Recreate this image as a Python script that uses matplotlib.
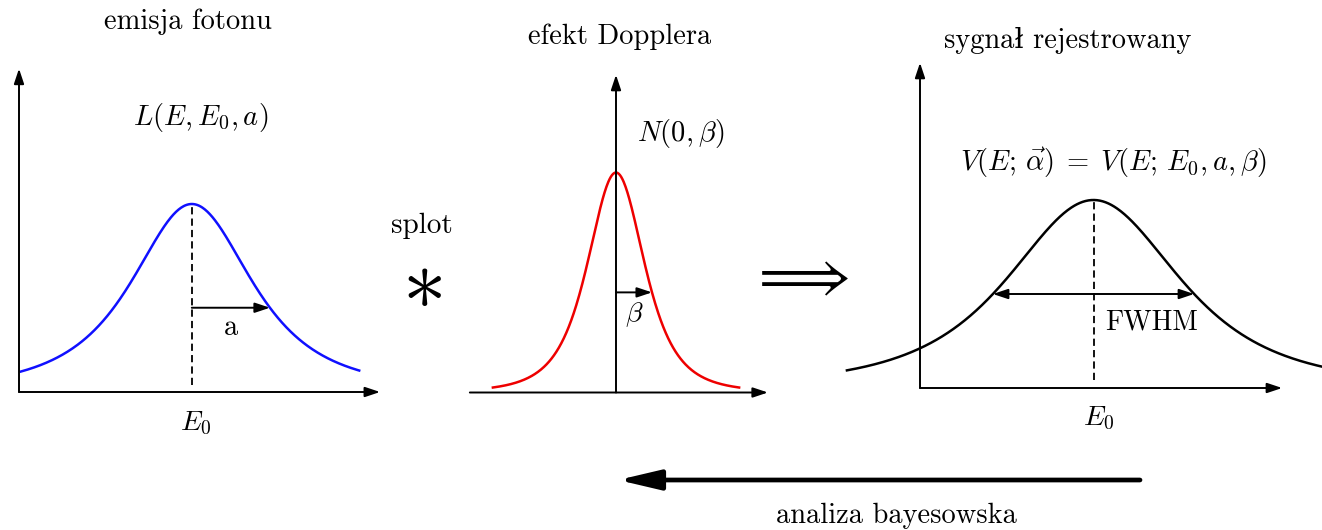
import numpy as np
import matplotlib.pyplot as plt

plt.rcParams['mathtext.fontset'] = 'cm'
TXT = ['cmr10', 'DejaVu Serif']

W, H = 1322, 530
SX, SY = 36.0, 188.0   # piksele na jednostke energii / intensywnosci

# emisja fotonu - profil Lorentza
e0_emisja = 4.8
szer_emisja = 2.58
wyk_emisja = 1.5
zakres_emisja = [0.05, 9.45]
a_emisja = 2.17

# efekt Dopplera
amp_doppler = 1.17
szer_doppler = 1.44
wyk_doppler = 2.0
zakres_doppler = [-3.42, 3.42]
beta = 1.0

# sygnal rejestrowany - profil Voigta
e0_sygnal = 4.82
szer_sygnal = 3.94
wyk_sygnal = 1.7
zakres_sygnal = [-2.03, 11.15]

tytuly = ['emisja fotonu', 'efekt Dopplera', 'sygnał rejestrowany']


def profil(E, E0, g, p, amp=1.0):
    return amp * (1 + ((E - E0) / g) ** 2) ** (-p)


fig = plt.figure(figsize=(W / 100, H / 100), dpi=100)

tlo = fig.add_axes([0, 0, 1, 1])
tlo.set_xlim(0, W)
tlo.set_ylim(H, 0)
tlo.axis('off')

strzalka = dict(arrowstyle='-|>,head_length=0.6,head_width=0.2', lw=1.4,
                color='black', mutation_scale=15, shrinkA=0, shrinkB=0)


def panel(ox, oy, xlim, ytop):
    left = ox + xlim[0] * SX
    right = ox + xlim[1] * SX
    ax = fig.add_axes([left / W, 1 - oy / H, (right - left) / W, ytop * SY / H])
    ax.set_xlim(xlim)
    ax.set_ylim(0, ytop)
    ax.axis('off')
    ax.annotate('', xy=(xlim[1], 0), xytext=(xlim[0], 0),
                arrowprops=strzalka, annotation_clip=False)
    ax.annotate('', xy=(0, ytop), xytext=(0, 0),
                arrowprops=strzalka, annotation_clip=False)
    return ax


# panel 1
ax1 = panel(19, 392, (0, 10.03), 1.72)
E = np.linspace(zakres_emisja[0], zakres_emisja[1], 400)
ax1.plot(E, profil(E, e0_emisja, szer_emisja, wyk_emisja), color='#1010ff',
         lw=1.8, clip_on=False)
ax1.plot([e0_emisja, e0_emisja], [0.035, 1.0], color='black', lw=1.3,
         dashes=(4, 2.3))
ya = profil(e0_emisja + a_emisja, e0_emisja, szer_emisja, wyk_emisja)
ax1.annotate('', xy=(e0_emisja + a_emisja, ya), xytext=(e0_emisja, ya),
             arrowprops=strzalka)
ax1.text(e0_emisja + a_emisja / 2, ya - 0.105, 'a', fontsize=20.5, family=TXT,
         ha='center', va='center')
ax1.text(e0_emisja + 0.1, -0.165, r'$E_0$', fontsize=20, ha='center', va='center')
ax1.text(e0_emisja + 0.25, 1.46, r'$L(E,E_0,a)$', fontsize=20.5, ha='center',
         va='center')

# panel 2
ax2 = panel(616, 392.5, (-4.06, 4.22), 1.69)
E = np.linspace(zakres_doppler[0], zakres_doppler[1], 400)
ax2.plot(E, profil(E, 0, szer_doppler, wyk_doppler, amp_doppler),
         color='#ee0000', lw=1.8, clip_on=False)
yb = profil(beta, 0, szer_doppler, wyk_doppler, amp_doppler)
ax2.annotate('', xy=(beta, yb), xytext=(0, yb), arrowprops=strzalka)
ax2.text(beta / 2, yb - 0.12, r'$\beta$', fontsize=20, ha='center', va='center')
ax2.text(1.8, 1.38, r'$N(0,\beta)$', fontsize=20.5, ha='center', va='center')

# panel 3
ax3 = panel(920, 388, (0, 10.06), 1.73)
E = np.linspace(zakres_sygnal[0], zakres_sygnal[1], 500)
ax3.plot(E, profil(E, e0_sygnal, szer_sygnal, wyk_sygnal), color='black',
         lw=1.8, clip_on=False)
ax3.plot([e0_sygnal, e0_sygnal], [0.04, 1.0], color='black', lw=1.3,
         dashes=(4, 2.3))
pol = szer_sygnal * np.sqrt(0.5 ** (-1 / wyk_sygnal) - 1)
ax3.annotate('', xy=(e0_sygnal + pol, 0.5), xytext=(e0_sygnal - pol, 0.5),
             arrowprops=dict(strzalka, arrowstyle='<|-|>,head_length=0.6,head_width=0.2'))
ax3.text(e0_sygnal + 1.6, 0.35, 'FWHM', fontsize=20, family=TXT, ha='center',
         va='center')
ax3.text(e0_sygnal + 0.15, -0.16, r'$E_0$', fontsize=20, ha='center', va='center')
ax3.text(e0_sygnal + 0.54, 1.2, r'$V(E;\,\vec{\alpha})\;=\;V(E;\,E_0,a,\beta)$',
         fontsize=20.5, ha='center', va='center')

# tytuly i elementy miedzy panelami
for x, y, t in zip([188, 620, 1068], [22, 37, 40], tytuly):
    tlo.text(x, y, t, fontsize=20.5, family=TXT, ha='center', va='center')

tlo.text(422, 226, 'splot', fontsize=21, family=TXT, ha='center', va='center')
tlo.text(422, 283, r'$\ast$', fontsize=63, ha='center', va='center')
tlo.text(798, 277, r'$\Longrightarrow$', fontsize=42, ha='center', va='center')
tlo.annotate('', xy=(618, 480), xytext=(1140, 480),
             arrowprops=dict(arrowstyle='-|>,head_length=0.85,head_width=0.2',
                             lw=3.4, color='black', mutation_scale=30,
                             shrinkA=0, shrinkB=0))
tlo.text(896, 516, 'analiza bayesowska', fontsize=20.5, family=TXT, ha='center',
         va='center')

fig.savefig('out.png', dpi=100)
